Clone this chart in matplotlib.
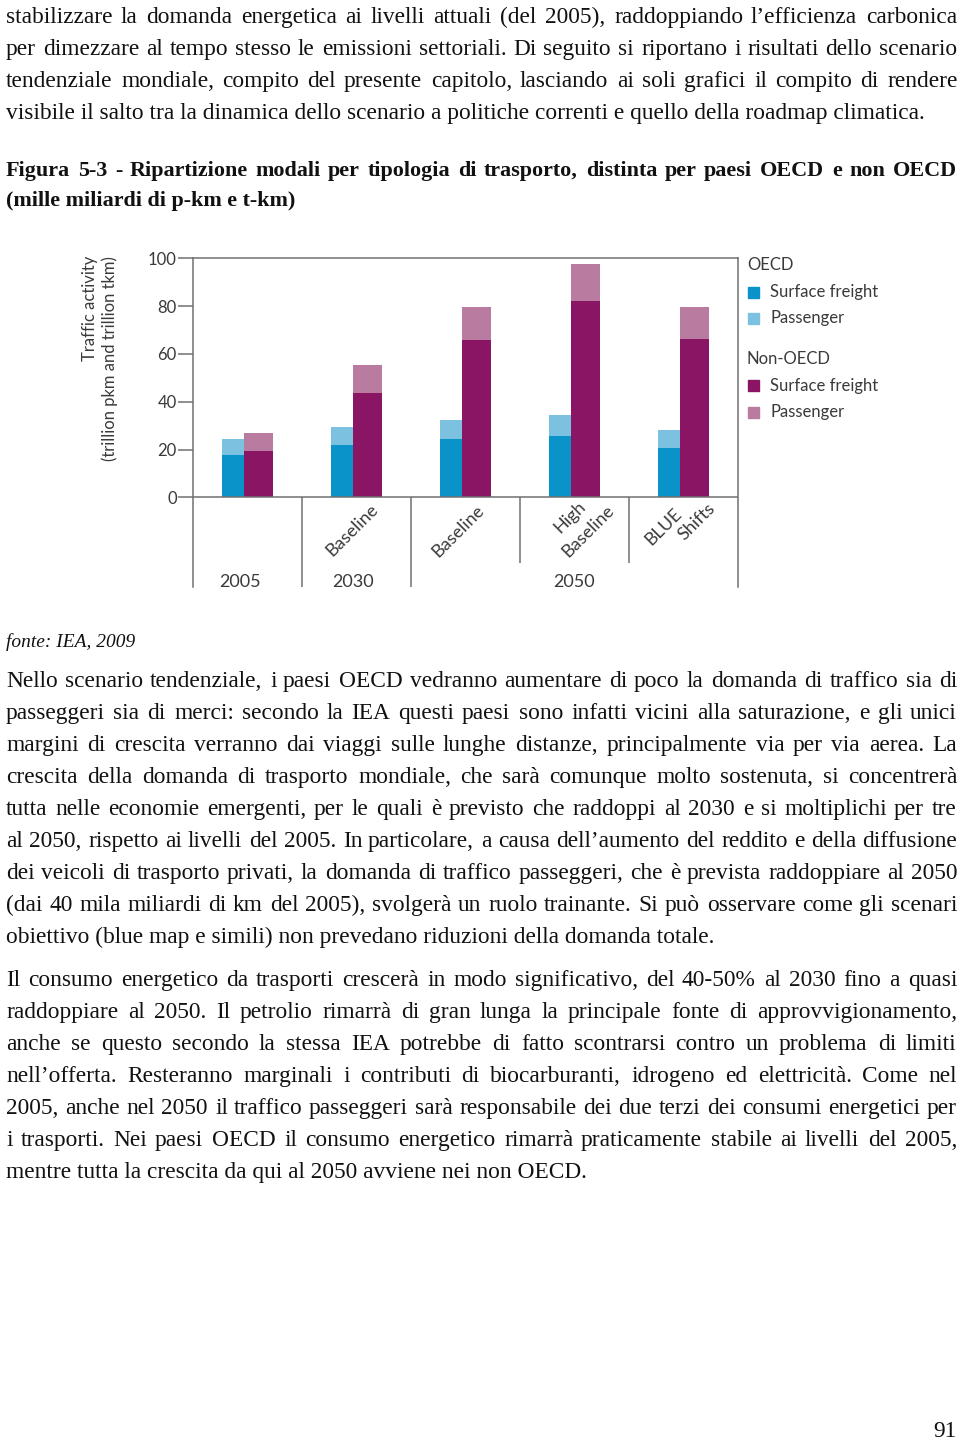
import numpy as np
import matplotlib.pyplot as plt
from matplotlib.patches import Rectangle

# chart data (trillion pkm / tkm)
groups = ['2005', '2030 Baseline', '2050 Baseline', '2050 High Baseline', '2050 BLUE Shifts']
oecd_freight = [17.7, 21.9, 24.5, 25.8, 20.6]
oecd_passenger = [6.9, 7.4, 7.8, 8.5, 7.7]
nonoecd_freight = [19.5, 43.6, 65.8, 82.0, 66.1]
nonoecd_passenger = [7.3, 11.6, 14.0, 15.6, 13.7]
scenario_labels = ['Baseline', 'Baseline', 'High\nBaseline', 'BLUE\nShifts']
year_labels = ['2005', '2030', '2050']
yticks = [0, 20, 40, 60, 80, 100]

intro = [
    "stabilizzare la domanda energetica ai livelli attuali (del 2005), raddoppiando l\u2019efficienza carbonica",
    "per dimezzare al tempo stesso le emissioni settoriali. Di seguito si riportano i risultati dello scenario",
    "tendenziale mondiale, compito del presente capitolo, lasciando ai soli grafici il compito di rendere",
    "visibile il salto tra la dinamica dello scenario a politiche correnti e quello della roadmap climatica.",
]
heading = [
    "Figura 5-3 - Ripartizione modali per tipologia di trasporto, distinta per paesi OECD e non OECD",
    "(mille miliardi di p-km e t-km)",
]
source = "fonte: IEA, 2009"
para1 = [
    "Nello scenario tendenziale, i paesi OECD vedranno aumentare di poco la domanda di traffico sia di",
    "passeggeri sia di merci: secondo la IEA questi paesi sono infatti vicini alla saturazione, e gli unici",
    "margini di crescita verranno dai viaggi sulle lunghe distanze, principalmente via per via aerea. La",
    "crescita della domanda di trasporto mondiale, che sar\u00e0 comunque molto sostenuta, si concentrer\u00e0",
    "tutta nelle economie emergenti, per le quali \u00e8 previsto che raddoppi al 2030 e si moltiplichi per tre",
    "al 2050, rispetto ai livelli del 2005. In particolare, a causa dell\u2019aumento del reddito e della diffusione",
    "dei veicoli di trasporto privati, la domanda di traffico passeggeri, che \u00e8 prevista raddoppiare al 2050",
    "(dai 40 mila miliardi di km del 2005), svolger\u00e0 un ruolo trainante. Si pu\u00f2 osservare come gli scenari",
    "obiettivo (blue map e simili) non prevedano riduzioni della domanda totale.",
]
para2 = [
    "Il consumo energetico da trasporti crescer\u00e0 in modo significativo, del 40-50% al 2030 fino a quasi",
    "raddoppiare al 2050. Il petrolio rimarr\u00e0 di gran lunga la principale fonte di approvvigionamento,",
    "anche se questo secondo la stessa IEA potrebbe di fatto scontrarsi contro un problema di limiti",
    "nell\u2019offerta. Resteranno marginali i contributi di biocarburanti, idrogeno ed elettricit\u00e0. Come nel",
    "2005, anche nel 2050 il traffico passeggeri sar\u00e0 responsabile dei due terzi dei consumi energetici per",
    "i trasporti. Nei paesi OECD il consumo energetico rimarr\u00e0 praticamente stabile ai livelli del 2005,",
    "mentre tutta la crescita da qui al 2050 avviene nei non OECD.",
]

c_oecd_f = '#0a93c8'
c_oecd_p = '#7cc1e0'
c_non_f = '#8a1565'
c_non_p = '#b97b9f'
gray = '#707070'
ink = '#111111'
chart_ink = '#3a3a3a'
serif = 'Liberation Serif'
sans = 'Lato'

fig = plt.figure(figsize=(9.6, 14.46), dpi=100)
page = fig.add_axes([0, 0, 1, 1])
page.set_xlim(0, 960)
page.set_ylim(1446, 0)
page.axis('off')
renderer = fig.canvas.get_renderer()

X0, X1 = 6, 957


def width_of(s, **kw):
    t = page.text(0, 0, s, **kw)
    w = t.get_window_extent(renderer).width
    t.remove()
    return w


def fit(s, target, **kw):
    return 20 * target / width_of(s, fontsize=20, **kw)


def justified(line, y, size, last=False, **kw):
    if last:
        page.text(X0, y, line, fontsize=size, va='baseline', color=ink, **kw)
        return
    words = line.split(' ')
    ws = [width_of(w, fontsize=size, **kw) for w in words]
    gap = (X1 - X0 - sum(ws)) / (len(words) - 1)
    x = X0
    for w, wd in zip(words, ws):
        page.text(round(x), y, w, fontsize=size, va='baseline', color=ink, **kw)
        x += wd + gap


# body size: match the natural width of the short last lines, without overflowing full lines
body_size = np.mean([fit(intro[-1], 926, family=serif),
                     fit(para1[-1], 729, family=serif),
                     fit(para2[-1], 592, family=serif)])
full_lines = intro[:-1] + para1[:-1] + para2[:-1]
body_size = min(body_size, min(fit(l, 944, family=serif) for l in full_lines))
head_size = fit(heading[-1], 290, family=serif, weight='bold')
src_size = fit(source, 129, family=serif, style='italic')


def paragraph(lines, y0):
    for i, line in enumerate(lines):
        justified(line, y0 + 32 * i, body_size, last=(i == len(lines) - 1), family=serif)


paragraph(intro, 23)
for i, line in enumerate(heading):
    justified(line, 176 + 30 * i, head_size, last=(i == len(heading) - 1),
              family=serif, weight='bold')
page.text(X0, 647, source, fontsize=src_size, family=serif, style='italic',
          va='baseline', color=ink)
paragraph(para1, 687)
paragraph(para2, 986)
page.text(957, 1437, '91', fontsize=body_size, family=serif, ha='right',
          va='baseline', color=ink)

# chart
top_px, bot_px, left_px, right_px = 258.3, 586.7, 192.7, 737.7
ymin = -(bot_px - 497.3) / ((497.3 - top_px) / 100)
ax = fig.add_axes([left_px / 960, 1 - bot_px / 1446,
                   (right_px - left_px) / 960, (bot_px - top_px) / 1446])
ax.patch.set_alpha(0)
ax.set_xlim(0, 5)
ax.set_ylim(ymin, 100)
x = np.arange(len(groups))
ax.bar(x + 0.266, oecd_freight, width=0.206, align='edge', color=c_oecd_f)
ax.bar(x + 0.266, oecd_passenger, width=0.206, align='edge', bottom=oecd_freight, color=c_oecd_p)
ax.bar(x + 0.472, nonoecd_freight, width=0.266, align='edge', color=c_non_f)
ax.bar(x + 0.472, nonoecd_passenger, width=0.266, align='edge', bottom=nonoecd_freight, color=c_non_p)

ax.axhline(0, color=gray, lw=1.1)
ax.vlines([1, 2], ymin, 0, color=gray, lw=1.1)
ax.vlines([3, 4], -27.4, 0, color=gray, lw=1.1)
ax.spines['bottom'].set_visible(False)
for s in ['left', 'right', 'top']:
    ax.spines[s].set_color(gray)
    ax.spines[s].set_linewidth(1.1)
ax.set_xticks([])
ax.set_yticks(yticks)
ax.tick_params(axis='y', length=10.5, width=1.1, color=gray, pad=1,
               labelsize=12, labelcolor=chart_ink)
for lab in ax.get_yticklabels():
    lab.set_family(sans)

page.text(90, 256, 'Traffic activity', rotation=90, ha='center', va='top',
          fontsize=12, family=sans, color=chart_ink)
page.text(110, 256, '(trillion pkm and trillion tkm)', rotation=90, ha='center',
          va='top', fontsize=12, family=sans, color=chart_ink)

# rotated scenario labels, one text per line (lines are offset by hand in the original)
label_pos = [[(352, 530)], [(458, 531)], [(570, 517), (588, 531)], [(664, 527), (697, 522)]]
for lab, spots in zip(scenario_labels, label_pos):
    for part, (cx, cy) in zip(lab.split('\n'), spots):
        page.text(cx, cy, part, rotation=45, ha='center', va='center',
                  fontsize=13, family=sans, color=chart_ink)
for lab, cx in zip(year_labels, [240, 353.5, 574]):
    page.text(cx, 582, lab, ha='center', va='center', fontsize=13, family=sans, color=chart_ink)

# legend
legend_rows = [('OECD', None, 265), ('Surface freight', c_oecd_f, 292), ('Passenger', c_oecd_p, 318),
               ('Non-OECD', None, 359), ('Surface freight', c_non_f, 385.5), ('Passenger', c_non_p, 412)]
for label, col, yy in legend_rows:
    if col is None:
        page.text(747, yy, label, va='center', fontsize=12, family=sans, color=chart_ink)
    else:
        page.add_patch(Rectangle((748, yy - 5.5), 11, 11, color=col))
        page.text(770, yy, label, va='center', fontsize=12, family=sans, color=chart_ink)

fig.savefig('out.png', dpi=100)
